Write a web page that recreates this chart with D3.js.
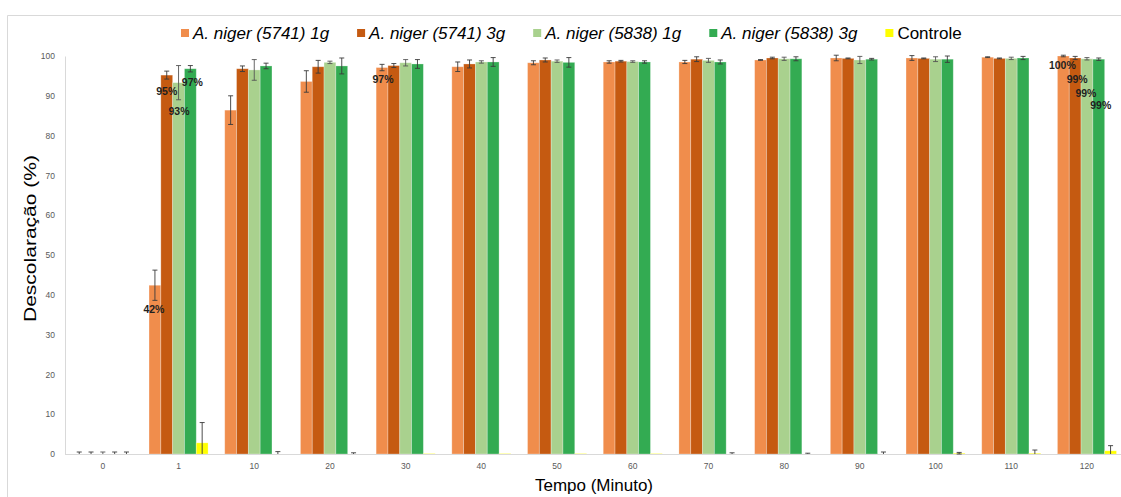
<!DOCTYPE html>
<html>
<head>
<meta charset="utf-8">
<script src="https://cdn.jsdelivr.net/npm/d3@7/dist/d3.min.js"></script>
<style>
  html, body { margin: 0; padding: 0; background: #fff; }
  svg { display: block; font-family: "Liberation Sans", Arial, sans-serif; }
</style>
</head>
<body>
<svg id="chart" width="1121" height="497"></svg>
<script>
// ---------- DATA ----------
const categories = ["0","1","10","20","30","40","50","60","70","80","90","100","110","120"];
const seriesNames = ["A. niger (5741) 1g","A. niger (5741) 3g","A. niger (5838) 1g","A. niger (5838) 3g","Controle"];

const s5741_1g = [0, 42.4, 86.4, 93.6, 97.1, 97.3, 98.3, 98.5, 98.5, 99.0, 99.5, 99.5, 99.7, 100.0];
const e5741_1g = [0.5, 3.8, 3.6, 2.7, 0.8, 1.2, 0.5, 0.3, 0.4, 0.1, 0.7, 0.6, 0.1, 0.2];
const s5741_3g = [0, 95.2, 96.8, 97.3, 97.6, 98.0, 99.0, 98.7, 99.2, 99.5, 99.4, 99.4, 99.4, 99.5];
const e5741_3g = [0.5, 1.0, 0.7, 1.6, 0.5, 1.0, 0.5, 0.2, 0.6, 0.2, 0.1, 0.1, 0.1, 0.4];
const s5838_1g = [0, 93.3, 96.5, 98.4, 98.3, 98.5, 98.7, 98.6, 98.9, 99.3, 99.0, 99.2, 99.4, 99.3];
const e5838_1g = [0.5, 4.3, 2.6, 0.3, 0.8, 0.3, 0.3, 0.2, 0.5, 0.4, 0.9, 0.6, 0.3, 0.3];
const s5838_3g = [0, 96.8, 97.5, 97.5, 98.0, 98.5, 98.4, 98.5, 98.5, 99.3, 99.2, 99.2, 99.5, 99.2];
const e5838_3g = [0.5, 0.8, 0.7, 2.0, 1.1, 1.1, 1.2, 0.3, 0.5, 0.5, 0.2, 0.8, 0.4, 0.3];
const sControle = [0, 2.8, 0, 0, 0.1, 0.1, 0.1, 0.1, 0, 0, 0, 0.2, 0.2, 0.8];
const eControle = [0.5, 5.1, 0.6, 0.3, 0, 0, 0, 0, 0.3, 0.2, 0.5, 0.2, 0.8, 1.3];

const yTicks = [0, 10, 20, 30, 40, 50, 60, 70, 80, 90, 100];

const labelTexts  = ["42%", "95%", "93%", "97%", "97%", "100%", "99%", "99%", "99%"];
const labelSeries = [0, 1, 2, 3, 0, 0, 1, 2, 3];
const labelCats   = ["1", "1", "1", "1", "30", "120", "120", "120", "120"];

// ---------- STYLE / LAYOUT ----------
const colors = ["#F08D4C", "#C55A11", "#A9D18E", "#33AB52", "#FFFF00"];
const labelOffsets = [[-1, 28], [0, 20], [0.5, 32], [2, 17], [1, 15], [-1, 13], [2, 25], [-1, 38], [2, 49.5]];

const values = [s5741_1g, s5741_3g, s5838_1g, s5838_3g, sControle];
const errors = [e5741_1g, e5741_3g, e5838_1g, e5838_3g, eControle];

const svg = d3.select("#chart");
const W = 1121, H = 497;
const plot = { left: 65, top: 56, bottom: 454, right: 65 + 14 * 75.7 };

// frame
svg.append("path")
  .attr("d", `M7.5,${H} V15.5 H${W}`)
  .attr("fill", "none").attr("stroke", "#d9d9d9").attr("stroke-width", 1);

const x = d3.scaleBand().domain(categories).range([plot.left, plot.right])
  .paddingInner(0.22).paddingOuter(0.11);
const xs = d3.scaleBand().domain(d3.range(seriesNames.length)).range([0, x.bandwidth()]);
const y = d3.scaleLinear().domain([0, 100]).range([plot.bottom, plot.top]);

// y axis
const yAxis = svg.append("g").attr("transform", `translate(${plot.left},0)`)
  .call(d3.axisLeft(y).tickValues(yTicks).tickSize(0).tickPadding(10));
yAxis.select(".domain").attr("stroke", "#d9d9d9");
yAxis.selectAll("text").attr("fill", "#595959").attr("font-size", "8.5px")
  .attr("font-family", "'Liberation Sans', Arial, sans-serif");

// bars
const bars = svg.append("g");
values.forEach((vals, si) => {
  bars.selectAll(null).data(categories).enter().append("rect")
    .attr("x", (c) => x(c) + xs(si))
    .attr("width", xs.bandwidth())
    .attr("y", (c, i) => y(vals[i]))
    .attr("height", (c, i) => y(0) - y(vals[i]))
    .attr("fill", colors[si])
    .attr("stroke", "rgba(255,255,255,0.35)")
    .attr("stroke-width", 0.8);
});

// x axis
const xAxis = svg.append("g").attr("transform", `translate(0,${plot.bottom})`)
  .call(d3.axisBottom(x).tickSize(0).tickPadding(9));
xAxis.select(".domain").attr("stroke", "#d9d9d9").attr("d", `M${plot.left},0.5H${W}`);
xAxis.selectAll("text").attr("fill", "#595959").attr("font-size", "8.5px")
  .attr("font-family", "'Liberation Sans', Arial, sans-serif");

// error bars
const eg = svg.append("g").attr("stroke", "#3a3a3a").attr("stroke-width", 0.9).attr("fill", "none");
values.forEach((vals, si) => {
  categories.forEach((c, i) => {
    const e = errors[si][i];
    if (!e) return;
    const cx = x(c) + xs(si) + xs.bandwidth() / 2;
    const hi = y(vals[i] + e), lo = y(Math.max(0, vals[i] - e));
    const capLo = vals[i] - e >= 0;
    let d = `M${cx},${hi}V${lo}M${cx - 2.5},${hi}H${cx + 2.5}`;
    if (capLo) d += `M${cx - 2.5},${lo}H${cx + 2.5}`;
    eg.append("path").attr("d", d).attr("stroke", si === 2 ? "#555" : "#3a3a3a");
  });
});

// data labels
labelTexts.forEach((t, k) => {
  const si = labelSeries[k], c = labelCats[k];
  const i = categories.indexOf(c);
  const cx = x(c) + xs(si) + xs.bandwidth() / 2 + labelOffsets[k][0];
  svg.append("text")
    .attr("x", cx).attr("y", y(values[si][i]) + labelOffsets[k][1])
    .attr("text-anchor", "middle")
    .attr("font-size", "10.5px").attr("font-weight", "bold")
    .attr("fill", "#1f1f1f")
    .text(t);
});

// axis titles
svg.append("text")
  .attr("transform", `translate(36,238.5) rotate(-90)`)
  .attr("text-anchor", "middle")
  .attr("font-size", "17px").attr("fill", "#000")
  .attr("textLength", 167).attr("lengthAdjust", "spacingAndGlyphs")
  .text("Descolaração (%)");

svg.append("text")
  .attr("x", 594).attr("y", 491)
  .attr("text-anchor", "middle")
  .attr("font-size", "17px").attr("fill", "#000")
  .text("Tempo (Minuto)");

// legend
const lg = svg.append("g");
let lx = 181;
seriesNames.forEach((n, si) => {
  lg.append("rect").attr("x", lx).attr("y", 29).attr("width", 8).attr("height", 8).attr("fill", colors[si]);
  const t = lg.append("text").attr("x", lx + 12).attr("y", 38.5)
    .attr("font-size", "17px").attr("fill", "#000")
    .attr("font-style", si < 4 ? "italic" : "normal")
    .text(n);
  lx += 12 + t.node().getComputedTextLength() + 28;
});
</script>
</body>
</html>
